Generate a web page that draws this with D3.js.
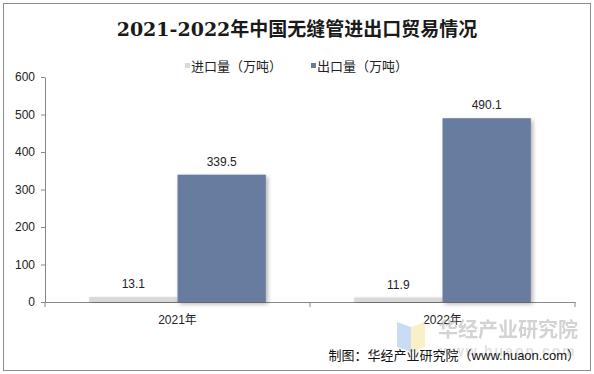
<!DOCTYPE html>
<html>
<head>
<meta charset="utf-8">
<script src="https://cdn.jsdelivr.net/npm/d3@7"></script>
<style>
  body { margin: 0; background: #fff; }
  text { font-family: "Liberation Sans", Arial, "Noto Sans CJK SC", sans-serif; }
</style>
</head>
<body>
<script>
// data
const years = ["2021年", "2022年"];
const seriesNames = ["进口量（万吨）", "出口量（万吨）"];
const importVals = [13.1, 11.9];
const exportVals = [339.5, 490.1];
const yTicks = [0, 100, 200, 300, 400, 500, 600];
const colors = ["#d9d9d9", "#687b9f"];

let width = 594, height = 374;
let svg = d3.select("body").append("svg")
  .attr("width", width)
  .attr("height", height);

// sombra de las barras
let defs = svg.append("defs");
let f = defs.append("filter").attr("id", "shadow")
  .attr("x", "-20%").attr("y", "-20%").attr("width", "140%").attr("height", "140%");
f.append("feDropShadow").attr("dx", 2).attr("dy", 2).attr("stdDeviation", 2)
  .attr("flood-color", "#000").attr("flood-opacity", 0.3);

// marco
svg.append("rect").attr("x", 3.5).attr("y", 3.5).attr("width", 587).attr("height", 367)
  .attr("fill", "none").attr("stroke", "#8c8c8c");

let margin = {left: 45, right: 19, top: 77, bottom: 72};

let x0 = d3.scaleBand().domain(years)
  .range([margin.left, width - margin.right])
  .paddingInner(1/3).paddingOuter(1/6);
let x1 = d3.scaleBand().domain([0, 1]).range([0, x0.bandwidth()]);
let y = d3.scaleLinear().domain([0, 600]).range([height - margin.bottom, margin.top]);

// titulo
svg.append("text")
  .attr("x", 297).attr("y", 36)
  .attr("text-anchor", "middle")
  .style("font-family", "'DejaVu Serif', 'Noto Sans CJK SC', serif")
  .style("font-size", "19px").style("font-weight", "bold")
  .attr("fill", "#1a1a1a")
  .text("2021-2022年中国无缝管进出口贸易情况");

// leyenda
let legendX = [185, 311];
seriesNames.forEach((n, i) => {
  let g = svg.append("g").attr("transform", `translate(${legendX[i]},66)`);
  g.append("rect").attr("x", 0).attr("y", -3).attr("width", 5).attr("height", 5).attr("fill", colors[i]);
  g.append("text").attr("x", 6).attr("y", 5).style("font-size", "13px").attr("fill", "#222")
    .style("font-family", "'Noto Sans CJK SC', sans-serif").text(n);
});

// eje y
let yAxis = svg.append("g").attr("transform", `translate(${margin.left},0)`)
  .call(d3.axisLeft(y).tickValues(yTicks).tickSize(4).tickSizeOuter(0));
yAxis.select(".domain").attr("stroke", "#888");
yAxis.selectAll(".tick line").attr("stroke", "#888");
yAxis.selectAll(".tick text").style("font-size", "12px").attr("fill", "#222").attr("x", -10);

// eje x
let xAxis = svg.append("g").attr("transform", `translate(0,${y(0)})`)
  .call(d3.axisBottom(x0).tickSize(0).tickSizeOuter(0));
xAxis.select(".domain").attr("stroke", "#888");
xAxis.selectAll(".tick text").style("font-size", "12px").attr("fill", "#222")
  .style("font-family", "'Liberation Sans', 'Noto Sans CJK SC', sans-serif").attr("dy", "1.6em");
let sepX = [margin.left, (x0(years[0]) + x0.bandwidth() + x0(years[1])) / 2, width - margin.right];
xAxis.selectAll(".sep").data(sepX).enter().append("line")
  .attr("x1", d => d).attr("x2", d => d).attr("y1", 0).attr("y2", 5).attr("stroke", "#888");

// barras
let rows = years.map((yr, i) => ({yr: yr, vals: [importVals[i], exportVals[i]]}));
let groups = svg.selectAll(".grp").data(rows).enter().append("g")
  .attr("transform", d => `translate(${x0(d.yr)},0)`);
groups.selectAll("rect").data(d => d.vals).enter().append("rect")
  .attr("x", (d, i) => x1(i))
  .attr("y", d => y(d))
  .attr("width", x1.bandwidth())
  .attr("height", d => y(0) - y(d))
  .attr("fill", (d, i) => colors[i])
  .attr("filter", "url(#shadow)");
groups.selectAll(".lbl").data(d => d.vals).enter().append("text")
  .attr("x", (d, i) => x1(i) + x1.bandwidth() / 2)
  .attr("y", d => y(d) - 9)
  .attr("text-anchor", "middle")
  .style("font-size", "12px").attr("fill", "#222")
  .text(d => d.toFixed(1));

// marca de agua
let wm = svg.append("g").attr("opacity", 0.55);
wm.append("path").attr("d", "M397,322 L411,327 L411,352 L397,347 Z").attr("fill", "#9cc3ea");
wm.append("path").attr("d", "M411,327 L425,322 L425,347 L411,352 Z").attr("fill", "#f6e49a");
wm.append("text").attr("x", 438).attr("y", 337).style("font-size", "20px").style("font-weight", "bold")
  .style("font-family", "'Noto Sans CJK SC', sans-serif").attr("fill", "#b0b0b0").text("华经产业研究院");
wm.append("text").attr("x", 440).attr("y", 356).style("font-size", "14px").style("font-weight", "bold")
  .attr("fill", "#c8c8c8").attr("letter-spacing", "2px").text("www.huaon.com");

svg.append("text").attr("x", 580).attr("y", 360).attr("text-anchor", "end")
  .style("font-size", "13px").attr("fill", "#111")
  .style("font-family", "'Liberation Sans', 'Noto Sans CJK SC', sans-serif")
  .text("制图：华经产业研究院（www.huaon.com）");
</script>
</body>
</html>
